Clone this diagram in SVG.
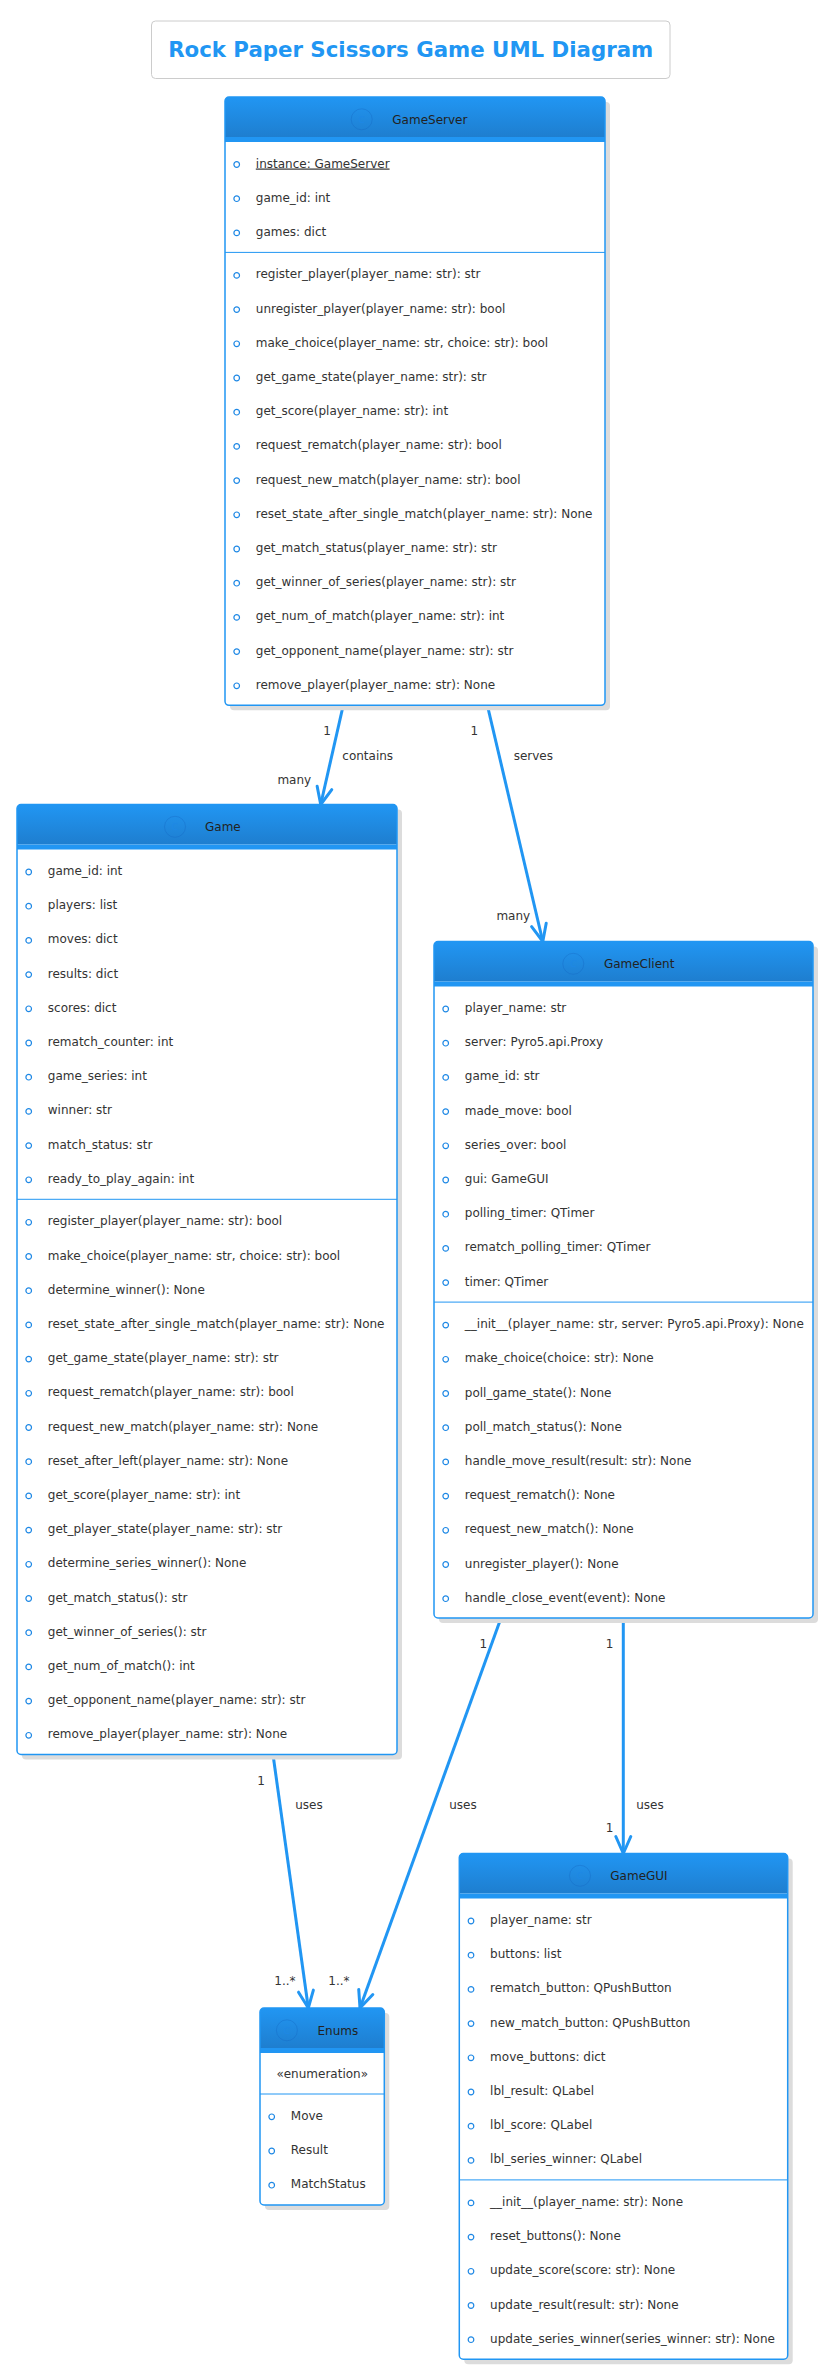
<svg xmlns="http://www.w3.org/2000/svg" xmlns:xlink="http://www.w3.org/1999/xlink" width="829" height="2375" viewBox="0 0 829 2375">
<style>
.t{font-family:"DejaVu Sans","Liberation Sans",sans-serif;font-size:12px;fill:#333}
.h{font-family:"DejaVu Sans","Liberation Sans",sans-serif;font-size:12px;fill:#222}
.ic{fill:none;stroke:#1565C0;stroke-opacity:.35;stroke-width:1}
.icl{font-family:"DejaVu Sans",sans-serif;font-size:9px;fill:#1E88E5;text-anchor:middle}
.lb{font-family:"DejaVu Sans","Liberation Sans",sans-serif;font-size:12px;fill:#333;text-anchor:middle}
.body{fill:#fff}
.border{fill:none;stroke:#2196F3;stroke-width:1.5}
.sh{fill:#dcdcdc}
.band{fill:#2196F3}
.sep{stroke:#2196F3;stroke-width:1}
.con{stroke:#2196F3;stroke-width:3;fill:none}
</style>
<defs>
<linearGradient id="hg" x1="0" y1="0" x2="0" y2="1">
<stop offset="0" stop-color="#2196F3"/>
<stop offset="1" stop-color="#1E7ECF"/>
</linearGradient>
<circle id="dot" r="2.8" fill="none" stroke="#1E88E5" stroke-width="1.2"/>
<marker id="arr" markerUnits="userSpaceOnUse" orient="auto" refX="17" refY="0" markerWidth="30" markerHeight="30" overflow="visible">
<path d="M0,-7.5 L17,0 L0,7.5" fill="none" stroke="#2196F3" stroke-width="3" stroke-linejoin="round" stroke-linecap="round"/>
</marker>
</defs>
<rect width="829" height="2375" fill="#fff"/>

<g id="title">
<rect x="151.5" y="21" width="518.5" height="57.5" rx="4" fill="#fff" stroke="#ccc" stroke-width="1"/>
<text x="410.7" y="57" text-anchor="middle" style="font-family:'DejaVu Sans','Liberation Sans',sans-serif;font-size:21.3px;font-weight:bold;fill:#2196F3">Rock Paper Scissors Game UML Diagram</text>
</g>

<g id="connectors">
<line class="con" x1="343.3" y1="705" x2="320.7" y2="804.5" marker-end="url(#arr)"/>
<line class="con" x1="487.3" y1="705" x2="542.8" y2="941.5" marker-end="url(#arr)"/>
<line class="con" x1="273" y1="1754.5" x2="308.3" y2="2008" marker-end="url(#arr)"/>
<line class="con" x1="501" y1="1618" x2="360" y2="2008" marker-end="url(#arr)"/>
<line class="con" x1="623.3" y1="1618" x2="623.3" y2="1853.5" marker-end="url(#arr)"/>
<text class="lb" x="327" y="735">1</text>
<text class="lb" x="367.7" y="760">contains</text>
<text class="lb" x="294.3" y="784">many</text>
<text class="lb" x="474.3" y="735">1</text>
<text class="lb" x="533.3" y="760">serves</text>
<text class="lb" x="513.3" y="920">many</text>
<text class="lb" x="261" y="1785">1</text>
<text class="lb" x="309" y="1809">uses</text>
<text class="lb" x="285" y="1984.5">1..*</text>
<text class="lb" x="483.3" y="1648">1</text>
<text class="lb" x="463" y="1809">uses</text>
<text class="lb" x="339" y="1984.5">1..*</text>
<text class="lb" x="609.5" y="1648">1</text>
<text class="lb" x="650" y="1809">uses</text>
<text class="lb" x="609.5" y="1832">1</text>
</g>

<g id="GameServer">
<rect class="sh" x="230" y="102" width="380" height="608.3" rx="4"/>
<rect class="body" x="225" y="97" width="380" height="608.3" rx="4"/>
<path d="M225,101 a4,4 0 0 1 4,-4 h372 a4,4 0 0 1 4,4 v36 h-380 z" fill="url(#hg)"/>
<rect class="band" x="225" y="137" width="380" height="5"/>
<circle class="ic" cx="361.7" cy="119.3" r="10.5"/>
<text class="icl" x="361.7" y="122.5">C</text>
<text class="h" x="392.3" y="123.8">GameServer</text>
<line class="sep" x1="225" y1="252.4" x2="605" y2="252.4"/>
<use xlink:href="#dot" x="236.7" y="164.5"/><text class="t" x="255.8" y="167.5" text-decoration="underline">instance: GameServer</text>
<use xlink:href="#dot" x="236.7" y="198.7"/><text class="t" x="255.8" y="201.7">game_id: int</text>
<use xlink:href="#dot" x="236.7" y="232.9"/><text class="t" x="255.8" y="235.9">games: dict</text>
<use xlink:href="#dot" x="236.7" y="275.4"/><text class="t" x="255.8" y="278.4">register_player(player_name: str): str</text>
<use xlink:href="#dot" x="236.7" y="309.6"/><text class="t" x="255.8" y="312.6">unregister_player(player_name: str): bool</text>
<use xlink:href="#dot" x="236.7" y="343.8"/><text class="t" x="255.8" y="346.8">make_choice(player_name: str, choice: str): bool</text>
<use xlink:href="#dot" x="236.7" y="378"/><text class="t" x="255.8" y="381">get_game_state(player_name: str): str</text>
<use xlink:href="#dot" x="236.7" y="412.2"/><text class="t" x="255.8" y="415.2">get_score(player_name: str): int</text>
<use xlink:href="#dot" x="236.7" y="446.4"/><text class="t" x="255.8" y="449.4">request_rematch(player_name: str): bool</text>
<use xlink:href="#dot" x="236.7" y="480.6"/><text class="t" x="255.8" y="483.6">request_new_match(player_name: str): bool</text>
<use xlink:href="#dot" x="236.7" y="514.8"/><text class="t" x="255.8" y="517.8">reset_state_after_single_match(player_name: str): None</text>
<use xlink:href="#dot" x="236.7" y="549"/><text class="t" x="255.8" y="552">get_match_status(player_name: str): str</text>
<use xlink:href="#dot" x="236.7" y="583.2"/><text class="t" x="255.8" y="586.2">get_winner_of_series(player_name: str): str</text>
<use xlink:href="#dot" x="236.7" y="617.4"/><text class="t" x="255.8" y="620.4">get_num_of_match(player_name: str): int</text>
<use xlink:href="#dot" x="236.7" y="651.6"/><text class="t" x="255.8" y="654.6">get_opponent_name(player_name: str): str</text>
<use xlink:href="#dot" x="236.7" y="685.8"/><text class="t" x="255.8" y="688.8">remove_player(player_name: str): None</text>
<rect class="border" x="225" y="97" width="380" height="608.3" rx="4"/>
</g>

<g id="Game">
<rect class="sh" x="22" y="809.5" width="380" height="950" rx="4"/>
<rect class="body" x="17" y="804.5" width="380" height="950" rx="4"/>
<path d="M17,808.5 a4,4 0 0 1 4,-4 h372 a4,4 0 0 1 4,4 v36 h-380 z" fill="url(#hg)"/>
<rect class="band" x="17" y="844.5" width="380" height="5"/>
<circle class="ic" cx="175" cy="826.8" r="10.5"/>
<text class="icl" x="175" y="830">C</text>
<text class="h" x="205" y="831.3">Game</text>
<line class="sep" x1="17" y1="1199.3" x2="397" y2="1199.3"/>
<use xlink:href="#dot" x="28.7" y="872"/><text class="t" x="47.8" y="875">game_id: int</text>
<use xlink:href="#dot" x="28.7" y="906.2"/><text class="t" x="47.8" y="909.2">players: list</text>
<use xlink:href="#dot" x="28.7" y="940.4"/><text class="t" x="47.8" y="943.4">moves: dict</text>
<use xlink:href="#dot" x="28.7" y="974.6"/><text class="t" x="47.8" y="977.6">results: dict</text>
<use xlink:href="#dot" x="28.7" y="1008.8"/><text class="t" x="47.8" y="1011.8">scores: dict</text>
<use xlink:href="#dot" x="28.7" y="1043"/><text class="t" x="47.8" y="1046">rematch_counter: int</text>
<use xlink:href="#dot" x="28.7" y="1077.2"/><text class="t" x="47.8" y="1080.2">game_series: int</text>
<use xlink:href="#dot" x="28.7" y="1111.4"/><text class="t" x="47.8" y="1114.4">winner: str</text>
<use xlink:href="#dot" x="28.7" y="1145.6"/><text class="t" x="47.8" y="1148.6">match_status: str</text>
<use xlink:href="#dot" x="28.7" y="1179.8"/><text class="t" x="47.8" y="1182.8">ready_to_play_again: int</text>
<use xlink:href="#dot" x="28.7" y="1222.3"/><text class="t" x="47.8" y="1225.3">register_player(player_name: str): bool</text>
<use xlink:href="#dot" x="28.7" y="1256.5"/><text class="t" x="47.8" y="1259.5">make_choice(player_name: str, choice: str): bool</text>
<use xlink:href="#dot" x="28.7" y="1290.7"/><text class="t" x="47.8" y="1293.7">determine_winner(): None</text>
<use xlink:href="#dot" x="28.7" y="1324.9"/><text class="t" x="47.8" y="1327.9">reset_state_after_single_match(player_name: str): None</text>
<use xlink:href="#dot" x="28.7" y="1359.1"/><text class="t" x="47.8" y="1362.1">get_game_state(player_name: str): str</text>
<use xlink:href="#dot" x="28.7" y="1393.3"/><text class="t" x="47.8" y="1396.3">request_rematch(player_name: str): bool</text>
<use xlink:href="#dot" x="28.7" y="1427.5"/><text class="t" x="47.8" y="1430.5">request_new_match(player_name: str): None</text>
<use xlink:href="#dot" x="28.7" y="1461.7"/><text class="t" x="47.8" y="1464.7">reset_after_left(player_name: str): None</text>
<use xlink:href="#dot" x="28.7" y="1495.9"/><text class="t" x="47.8" y="1498.9">get_score(player_name: str): int</text>
<use xlink:href="#dot" x="28.7" y="1530.1"/><text class="t" x="47.8" y="1533.1">get_player_state(player_name: str): str</text>
<use xlink:href="#dot" x="28.7" y="1564.3"/><text class="t" x="47.8" y="1567.3">determine_series_winner(): None</text>
<use xlink:href="#dot" x="28.7" y="1598.5"/><text class="t" x="47.8" y="1601.5">get_match_status(): str</text>
<use xlink:href="#dot" x="28.7" y="1632.7"/><text class="t" x="47.8" y="1635.7">get_winner_of_series(): str</text>
<use xlink:href="#dot" x="28.7" y="1666.9"/><text class="t" x="47.8" y="1669.9">get_num_of_match(): int</text>
<use xlink:href="#dot" x="28.7" y="1701.1"/><text class="t" x="47.8" y="1704.1">get_opponent_name(player_name: str): str</text>
<use xlink:href="#dot" x="28.7" y="1735.3"/><text class="t" x="47.8" y="1738.3">remove_player(player_name: str): None</text>
<rect class="border" x="17" y="804.5" width="380" height="950" rx="4"/>
</g>

<g id="GameClient">
<rect class="sh" x="439" y="946.5" width="379" height="676.4" rx="4"/>
<rect class="body" x="434" y="941.5" width="379" height="676.4" rx="4"/>
<path d="M434,945.5 a4,4 0 0 1 4,-4 h371 a4,4 0 0 1 4,4 v36 h-379 z" fill="url(#hg)"/>
<rect class="band" x="434" y="981.5" width="379" height="5"/>
<circle class="ic" cx="573.3" cy="963.8" r="10.5"/>
<text class="icl" x="573.3" y="967">C</text>
<text class="h" x="603.9" y="968.3">GameClient</text>
<line class="sep" x1="434" y1="1302.1" x2="813" y2="1302.1"/>
<use xlink:href="#dot" x="445.7" y="1009"/><text class="t" x="464.8" y="1012">player_name: str</text>
<use xlink:href="#dot" x="445.7" y="1043.2"/><text class="t" x="464.8" y="1046.2">server: Pyro5.api.Proxy</text>
<use xlink:href="#dot" x="445.7" y="1077.4"/><text class="t" x="464.8" y="1080.4">game_id: str</text>
<use xlink:href="#dot" x="445.7" y="1111.6"/><text class="t" x="464.8" y="1114.6">made_move: bool</text>
<use xlink:href="#dot" x="445.7" y="1145.8"/><text class="t" x="464.8" y="1148.8">series_over: bool</text>
<use xlink:href="#dot" x="445.7" y="1180"/><text class="t" x="464.8" y="1183">gui: GameGUI</text>
<use xlink:href="#dot" x="445.7" y="1214.2"/><text class="t" x="464.8" y="1217.2">polling_timer: QTimer</text>
<use xlink:href="#dot" x="445.7" y="1248.4"/><text class="t" x="464.8" y="1251.4">rematch_polling_timer: QTimer</text>
<use xlink:href="#dot" x="445.7" y="1282.6"/><text class="t" x="464.8" y="1285.6">timer: QTimer</text>
<use xlink:href="#dot" x="445.7" y="1325.1"/><text class="t" x="464.8" y="1328.1">__init__(player_name: str, server: Pyro5.api.Proxy): None</text>
<use xlink:href="#dot" x="445.7" y="1359.3"/><text class="t" x="464.8" y="1362.3">make_choice(choice: str): None</text>
<use xlink:href="#dot" x="445.7" y="1393.5"/><text class="t" x="464.8" y="1396.5">poll_game_state(): None</text>
<use xlink:href="#dot" x="445.7" y="1427.7"/><text class="t" x="464.8" y="1430.7">poll_match_status(): None</text>
<use xlink:href="#dot" x="445.7" y="1461.9"/><text class="t" x="464.8" y="1464.9">handle_move_result(result: str): None</text>
<use xlink:href="#dot" x="445.7" y="1496.1"/><text class="t" x="464.8" y="1499.1">request_rematch(): None</text>
<use xlink:href="#dot" x="445.7" y="1530.3"/><text class="t" x="464.8" y="1533.3">request_new_match(): None</text>
<use xlink:href="#dot" x="445.7" y="1564.5"/><text class="t" x="464.8" y="1567.5">unregister_player(): None</text>
<use xlink:href="#dot" x="445.7" y="1598.7"/><text class="t" x="464.8" y="1601.7">handle_close_event(event): None</text>
<rect class="border" x="434" y="941.5" width="379" height="676.4" rx="4"/>
</g>

<g id="GameGUI">
<rect class="sh" x="464.3" y="1858.5" width="328.4" height="505.7" rx="4"/>
<rect class="body" x="459.3" y="1853.5" width="328.4" height="505.7" rx="4"/>
<path d="M459.3,1857.5 a4,4 0 0 1 4,-4 h320.4 a4,4 0 0 1 4,4 v36 h-328.4 z" fill="url(#hg)"/>
<rect class="band" x="459.3" y="1893.5" width="328.4" height="5"/>
<circle class="ic" cx="580" cy="1875.8" r="10.5"/>
<text class="icl" x="580" y="1879">C</text>
<text class="h" x="610.3" y="1880.3">GameGUI</text>
<line class="sep" x1="459.3" y1="2179.9" x2="787.7" y2="2179.9"/>
<use xlink:href="#dot" x="471" y="1921"/><text class="t" x="490.1" y="1924">player_name: str</text>
<use xlink:href="#dot" x="471" y="1955.2"/><text class="t" x="490.1" y="1958.2">buttons: list</text>
<use xlink:href="#dot" x="471" y="1989.4"/><text class="t" x="490.1" y="1992.4">rematch_button: QPushButton</text>
<use xlink:href="#dot" x="471" y="2023.6"/><text class="t" x="490.1" y="2026.6">new_match_button: QPushButton</text>
<use xlink:href="#dot" x="471" y="2057.8"/><text class="t" x="490.1" y="2060.8">move_buttons: dict</text>
<use xlink:href="#dot" x="471" y="2092"/><text class="t" x="490.1" y="2095">lbl_result: QLabel</text>
<use xlink:href="#dot" x="471" y="2126.2"/><text class="t" x="490.1" y="2129.2">lbl_score: QLabel</text>
<use xlink:href="#dot" x="471" y="2160.4"/><text class="t" x="490.1" y="2163.4">lbl_series_winner: QLabel</text>
<use xlink:href="#dot" x="471" y="2202.9"/><text class="t" x="490.1" y="2205.9">__init__(player_name: str): None</text>
<use xlink:href="#dot" x="471" y="2237.1"/><text class="t" x="490.1" y="2240.1">reset_buttons(): None</text>
<use xlink:href="#dot" x="471" y="2271.3"/><text class="t" x="490.1" y="2274.3">update_score(score: str): None</text>
<use xlink:href="#dot" x="471" y="2305.5"/><text class="t" x="490.1" y="2308.5">update_result(result: str): None</text>
<use xlink:href="#dot" x="471" y="2339.7"/><text class="t" x="490.1" y="2342.7">update_series_winner(series_winner: str): None</text>
<rect class="border" x="459.3" y="1853.5" width="328.4" height="505.7" rx="4"/>
</g>

<g id="Enums">
<rect class="sh" x="265" y="2013" width="124.3" height="197" rx="4"/>
<rect class="body" x="260" y="2008" width="124.3" height="197" rx="4"/>
<path d="M260,2012 a4,4 0 0 1 4,-4 h116.3 a4,4 0 0 1 4,4 v36 h-124.3 z" fill="url(#hg)"/>
<rect class="band" x="260" y="2048" width="124.3" height="5"/>
<circle class="ic" cx="286.9" cy="2030.3" r="10.5"/>
<text class="icl" x="286.9" y="2033.5">C</text>
<text class="h" x="317.5" y="2034.8">Enums</text>
<text class="t" x="322.2" y="2077.5" text-anchor="middle">«enumeration»</text>
<line class="sep" x1="260" y1="2094" x2="384.3" y2="2094"/>
<use xlink:href="#dot" x="271.7" y="2116.8"/><text class="t" x="290.8" y="2119.8">Move</text>
<use xlink:href="#dot" x="271.7" y="2151"/><text class="t" x="290.8" y="2154">Result</text>
<use xlink:href="#dot" x="271.7" y="2185.2"/><text class="t" x="290.8" y="2188.2">MatchStatus</text>
<rect class="border" x="260" y="2008" width="124.3" height="197" rx="4"/>
</g>
</svg>
